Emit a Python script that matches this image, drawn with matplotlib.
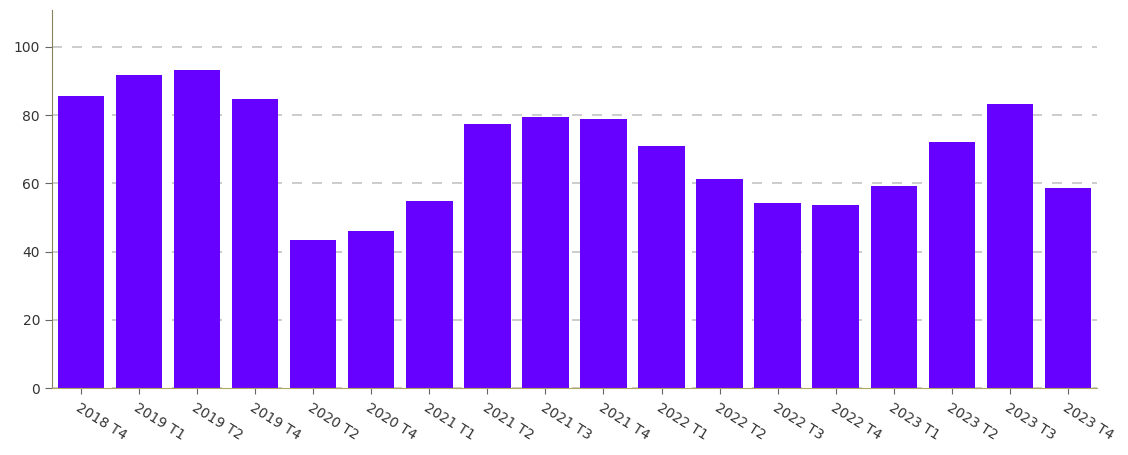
import matplotlib
matplotlib.use("Agg")
import matplotlib.pyplot as plt

# ---------------------------------------------------------------------
labels = ["2018 T4", "2019 T1", "2019 T2", "2019 T4", "2020 T2", "2020 T4",
          "2021 T1", "2021 T2", "2021 T3", "2021 T4", "2022 T1", "2022 T2",
          "2022 T3", "2022 T4", "2023 T1", "2023 T2", "2023 T3", "2023 T4"]
values = [85.6, 91.8, 93.3, 84.8, 43.4, 46.0,
          54.8, 77.4, 79.5, 78.9, 71.0, 61.3,
          54.3, 53.7, 59.2, 72.1, 83.3, 58.7]
yticks = [0, 20, 40, 60, 80, 100]
# ---------------------------------------------------------------------

fig = plt.figure(figsize=(11.28, 4.55), dpi=100)
ax = fig.add_axes([0.046, 0.147, 0.9265, 0.831])

ax.bar(range(len(values)), values, width=0.8, color="#6600ff", zorder=2)

ax.set_xlim(-0.5, len(values) - 0.5)
ax.set_ylim(0, 110.8)
ax.set_yticks(yticks)
ax.set_xticks(range(len(labels)))
ax.set_xticklabels(labels, rotation=-32, ha="left", rotation_mode="anchor",
                   fontsize=10, color="#333333")
ax.tick_params(axis="y", labelsize=10, labelcolor="#333333", color="#666666", length=5)
ax.tick_params(axis="x", color="#666666", length=4, pad=5)

ax.yaxis.grid(True, linestyle=(0, (6, 6)), color="#c4c4c4", lw=1.2, zorder=0)
ax.set_axisbelow(True)

for s in ["top", "right"]:
    ax.spines[s].set_visible(False)
ax.spines["left"].set_color("#8a8060")
ax.spines["bottom"].set_color("#b0a860")

fig.savefig("out.png", dpi=100)
